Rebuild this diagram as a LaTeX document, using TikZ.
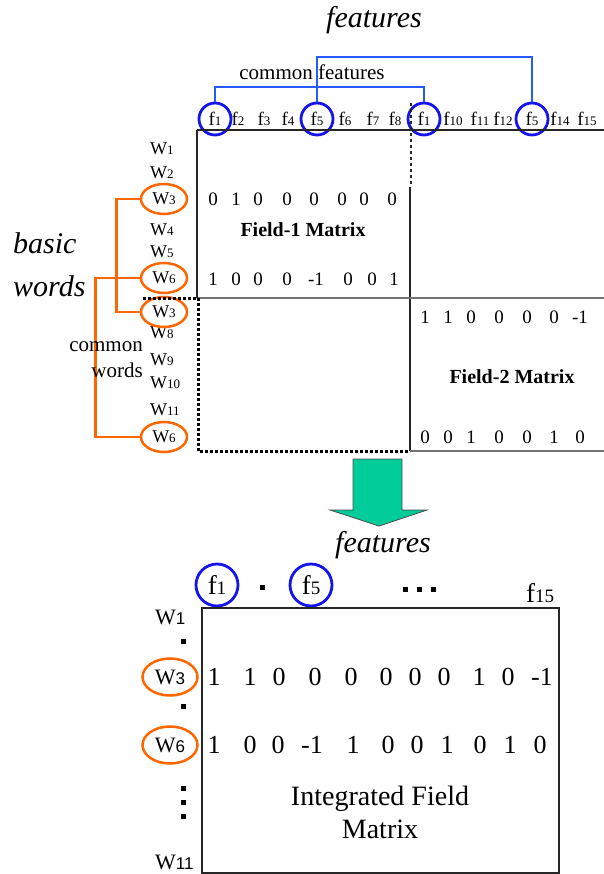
\documentclass[tikz,border=0pt]{standalone}
\usepackage{fontspec}
\setmainfont{Liberation Serif}
\newfontfamily\digsans{Liberation Sans}
\usetikzlibrary{shapes.geometric}

\definecolor{fblue}{RGB}{20,20,235}
\definecolor{lblue}{RGB}{40,90,255}
\definecolor{wor}{RGB}{255,102,0}
\definecolor{arrgreen}{RGB}{0,204,153}

\newcommand{\fsz}[1]{\fontsize{#1}{#1}\selectfont}
% indexed labels, small and large
\newcommand{\fidx}[1]{f{\fsz{13}#1}}
\newcommand{\widx}[1]{W{\fsz{13}#1}}
\newcommand{\Fidx}[1]{f{\fsz{19}#1}}
\newcommand{\Widx}[1]{W{\fsz{17}\digsans #1}}

\begin{document}
\begin{tikzpicture}[
  x=1pt, y=-1pt,
  every node/.style={inner sep=0pt},
  flab/.style={font=\fsz{19}},
  fring/.style={draw=fblue,line width=2.8pt,circle,minimum size=32pt},
  Fring/.style={font=\fsz{27},draw=fblue,line width=2.8pt,circle,minimum size=42pt},
  wlab/.style={font=\fsz{18},anchor=west},
  wring/.style={font=\fsz{18},draw=wor,line width=2.5pt,ellipse,minimum width=46pt,minimum height=30pt},
  Wlab/.style={font=\fsz{22},anchor=west},
  Wring/.style={font=\fsz{22},draw=wor,line width=2.5pt,ellipse,minimum width=55pt,minimum height=37pt},
  val/.style={font=\fsz{19}},
  bigval/.style={font=\fsz{26}},
  ttl/.style={font=\fsz{30}\itshape},
  cnote/.style={font=\fontsize{21}{26}\selectfont},
  mname/.style={font=\fsz{20}\bfseries},
  brk/.style={draw=lblue,line width=2.6pt},
  obrk/.style={draw=wor,line width=2.6pt},
  boxline/.style={draw=black!85,line width=1.5pt},
  gline/.style={draw=black!55,line width=1.8pt},
  dotline/.style={line width=3pt,dash pattern=on 3pt off 2pt},
  sq/.style={fill=black,minimum size=5pt}]
  \useasboundingbox (0,0) rectangle (604,874);

  % ---- two field matrices ----
  \node[ttl] (ft1) at (374,20) {features};
  \foreach \x/\n [count=\i] in {215/1,238/2,264/3,288/4,317/5,345/6,373/7,395/8,
      424/1,453/10,480/11,503/12,532/5,560/14,587/15}
    \node[flab] (fa\i) at (\x,119) {\fidx{\n}};
  \foreach \i in {1,5,9,13}
    \node[fring] (fc\i) at (fa\i) {};
  \coordinate (blo) at (0,87);
  \coordinate (bhi) at (0,57);
  \draw[brk] (fc1.north) -- (fc1.north |- blo) -- (fc9.north |- blo) -- (fc9.north);
  \draw[brk] (fc5.north) -- (fc5.north |- bhi) -- (fc13.north |- bhi) -- (fc13.north);
  \node[cnote] (cf) at (312,72) {common features};

  \foreach \y/\n in {149/1,173/2,230/4,252/5,333/8,360/9,383/10,410/11}
    \node[wlab] (w\n) at (150,\y) {\widx{\n}};
  \node[wring] (w3a) at (164,199) {\widx{3}};
  \node[wring] (w6a) at (164,278) {\widx{6}};
  \node[wring] (w3b) at (164,312) {\widx{3}};
  \node[wring] (w6b) at (164,437) {\widx{6}};
  \draw[obrk] (w3a.west) -- ++(-23,0) |- (w3b.west);
  \draw[obrk] (w6a.west) -- ++(-44,0) |- (w6b.west);

  \node[ttl,anchor=west] (bw1) at (13,243) {basic};
  \node[ttl,anchor=west] (bw2) at (13,286) {words};
  \node[cnote,align=right,anchor=east] (cw) at (143,360) {common\\words};

  % frames
  \draw[boxline] (197,130) -- (604,130);
  \draw[boxline] (197,130) -- (197,298);
  \draw[boxline,dashed] (411,103) -- (411,187);
  \draw[boxline] (410,187) -- (410,451);
  \draw[dotline] (143,298) -- (198,298);
  \draw[gline] (198,298) -- (604,298);
  \draw[dotline] (198,298) -- (198,451) -- (410,451);
  \draw[gline] (410,451) -- (604,451);

  % entries
  \foreach \x/\v [count=\i] in {213/0,236/1,258/0,287/0,314/0,342/0,364/0,392/0}
    \node[val] (a3c\i) at (\x,199) {\v};
  \foreach \x/\v [count=\i] in {213/1,236/0,258/0,287/0,316/-1,348/0,372/0,394/1}
    \node[val] (a6c\i) at (\x,279) {\v};
  \foreach \x/\v [count=\i] in {425/1,448/1,471/0,499/0,527/0,554/0,580/-1}
    \node[val] (b3c\i) at (\x,317) {\v};
  \foreach \x/\v [count=\i] in {425/0,448/0,471/1,499/0,527/0,554/1,580/0}
    \node[val] (b6c\i) at (\x,437) {\v};
  \node[mname] (m1) at (303,230) {Field-1 Matrix};
  \node[mname] (m2) at (512,377) {Field-2 Matrix};

  % merge arrow
  \filldraw[fill=arrgreen,draw=black!70,line width=0.8pt]
    (353,459) -- (402,459) -- (402,510) -- (427,510) -- (379,526)
    -- (330,510) -- (353,510) -- cycle;

  % ---- integrated matrix ----
  \node[ttl] (ft2) at (383,545) {features};
  \node[Fring] (g1) at (217,585) {\Fidx{1}};
  \node[Fring] (g5) at (311,585) {\Fidx{5}};
  \node[sq] (gd) at (262,587) {};
  \foreach \x [count=\i] in {405,419,433}
    \node[sq] (ge\i) at (\x,589) {};
  \node[font=\fsz{27}] (g15) at (540,593) {\Fidx{15}};

  \draw[boxline] (202,608) rectangle (559,873);
  \node[Wlab] (v1) at (155,617) {\Widx{1}};
  \node[Wlab] (v11) at (155,862) {\Widx{11}};
  \node[Wring] (v3) at (170,677) {\Widx{3}};
  \node[Wring] (v6) at (170,745) {\Widx{6}};
  \foreach \y [count=\i] in {641,706,788,802,816}
    \node[sq] (vd\i) at (183,\y) {};

  \foreach \x/\v [count=\i] in {214/1,250/1,279/0,315/0,351/0,386/0,415/0,444/0,479/1,508/0,542/-1}
    \node[bigval] (r3c\i) at (\x,677) {\v};
  \foreach \x/\v [count=\i] in {214/1,250/0,278/0,312/-1,353/1,388/0,417/0,447/1,480/0,510/1,540/0}
    \node[bigval] (r6c\i) at (\x,745) {\v};
  \node[font=\fontsize{28}{33}\selectfont,align=center] (im) at (380,812) {Integrated Field\\Matrix};
\end{tikzpicture}
\end{document}
